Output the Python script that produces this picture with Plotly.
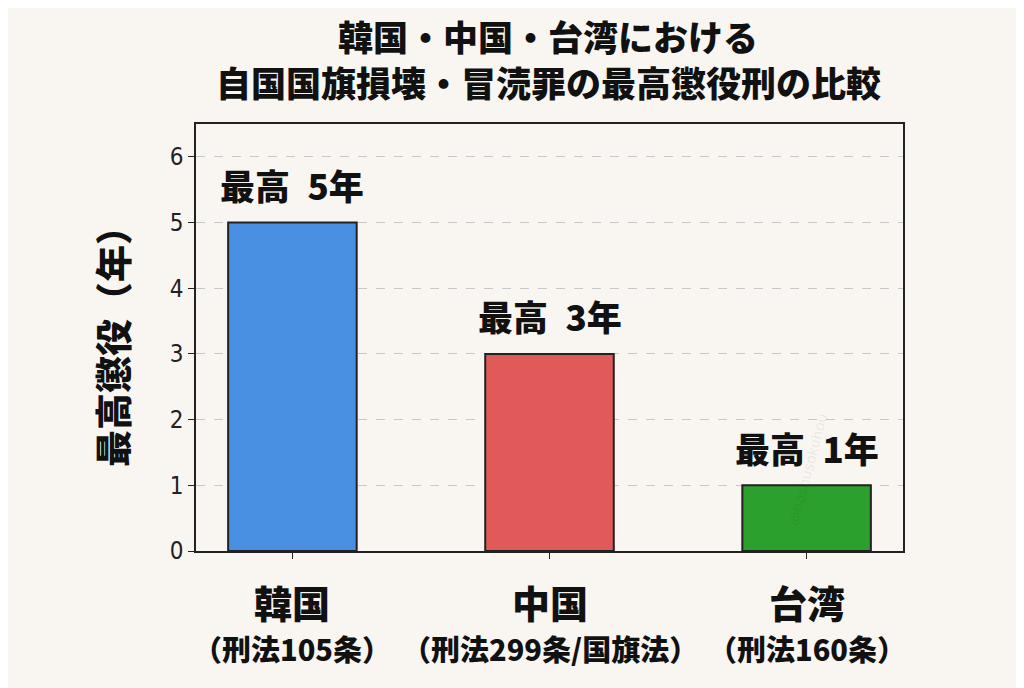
import plotly.graph_objects as go

countries = ["韓国", "中国", "台湾"]
laws = ["（刑法105条）", "（刑法299条/国旗法）", "（刑法160条）"]
max_years = [5, 3, 1]
bar_labels = ["最高 5年", "最高 3年", "最高 1年"]
colors = ["#4a90e2", "#e05a5a", "#2ca02c"]
title_lines = ["韓国・中国・台湾における", "自国国旗損壊・冒涜罪の最高懲役刑の比較"]

FONT = "Noto Sans CJK JP"
L, R, T, B = 188, 129, 116, 145
PW, PH = 1024 - L - R, 688 - T - B


def jp(size):
    return dict(family=FONT, size=size, color="#111111", weight=900)


fig = go.Figure(go.Bar(
    x=list(range(len(countries))), y=max_years, width=0.5,
    marker=dict(color=colors, line=dict(color="#222222", width=2)),
))

for i, (c, l, lab, v) in enumerate(zip(countries, laws, bar_labels, max_years)):
    fig.add_annotation(x=i, y=v, xref="x", yref="y", yshift=38,
                       text=lab.replace(" ", "\u2002"), showarrow=False, font=jp(35))
    fig.add_annotation(x=i, y=0, xref="x", yref="y", yshift=-50, text=c,
                       showarrow=False, font=jp(38))
    fig.add_annotation(x=i, y=0, xref="x", yref="y", yshift=-97, text=l,
                       showarrow=False, font=jp(29))

for t, yp in zip(title_lines, [27, 73]):
    fig.add_annotation(x=(540 - L) / PW, y=(688 - B - yp) / PH, xref="paper", yref="paper",
                       yanchor="middle", text=t, showarrow=False, font=jp(35))

fig.add_annotation(x=0.9, y=0.05, xref="paper", yref="paper", text="@hoshusokuhou",
                   textangle=-75, showarrow=False,
                   font=dict(family="DejaVu Sans", size=14, color="rgba(0,0,0,0.08)"))

fig.update_layout(
    width=1024, height=688,
    paper_bgcolor="#f9f6f1", plot_bgcolor="#f9f6f1",
    margin=dict(l=L, r=R, t=T, b=B, autoexpand=False),
    showlegend=False,
    xaxis=dict(range=[-0.375, 2.375], showticklabels=False, ticks="outside",
               tickvals=[0, 1, 2], ticklen=6, tickcolor="#222", showgrid=False,
               showline=True, linecolor="#222", linewidth=1.5, mirror=True, zeroline=False),
    yaxis=dict(range=[0, 6.5], dtick=1, ticks="outside", ticklen=6, tickcolor="#222",
               tickfont=dict(family="DejaVu Sans Condensed", size=24, color="#222"),
               showgrid=True, gridcolor="#c8c8c8", griddash="dash", gridwidth=1,
               showline=True, linecolor="#222", linewidth=1.5, mirror=True, zeroline=False,
               title=dict(text="最高懲役（年）", standoff=30, font=jp(37))),
)

fig.write_html("out.html")
